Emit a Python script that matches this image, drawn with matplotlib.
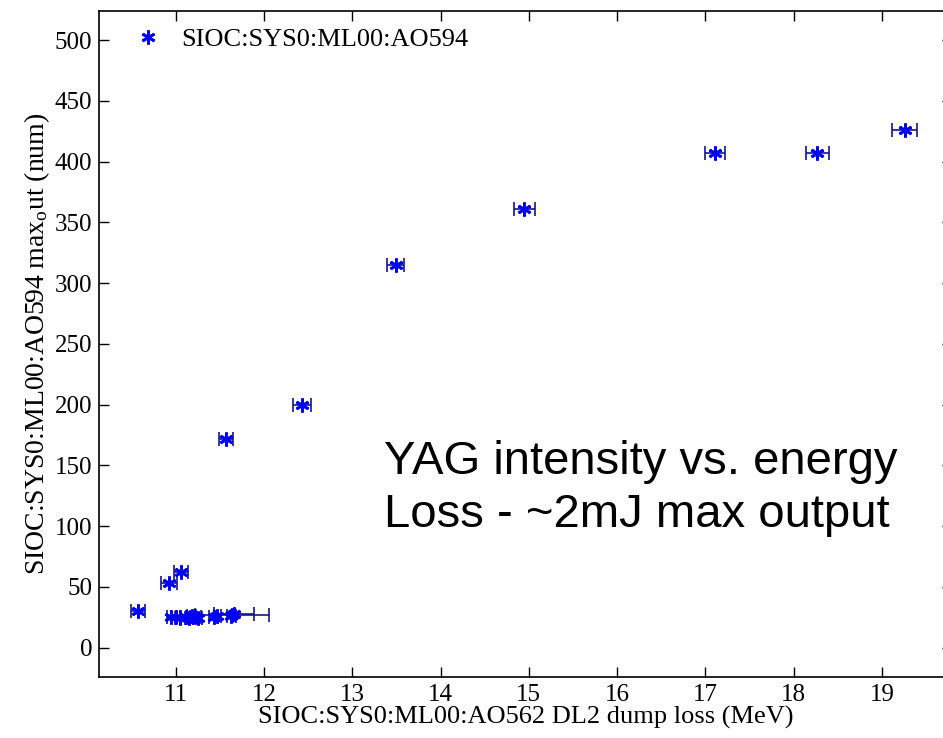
import matplotlib.pyplot as plt
import numpy as np

plt.rcParams['font.family'] = 'Liberation Serif'
plt.rcParams['mathtext.fontset'] = 'custom'
plt.rcParams['mathtext.rm'] = 'Liberation Serif'
plt.rcParams['mathtext.it'] = 'Liberation Serif:italic'

# dump loss (MeV), max output (num), x error
energy = [10.57, 10.92, 11.06, 11.57, 12.43, 13.49, 14.95, 17.11, 18.27, 19.26,
          10.95, 11.00, 11.05, 11.12, 11.15, 11.18, 11.22, 11.25, 11.43, 11.47,
          11.63, 11.66, 11.64]
output = [30, 53, 62, 172, 200, 315, 361, 407, 407, 426,
          25, 25, 24, 25, 24, 26, 25, 24, 25, 26,
          26, 28, 27]
energy_err = [0.08, 0.09, 0.08, 0.08, 0.10, 0.10, 0.12, 0.11, 0.13, 0.14,
              0.05, 0.05, 0.06, 0.06, 0.05, 0.05, 0.06, 0.05, 0.05, 0.04,
              0.05, 0.23, 0.42]

xticks = np.arange(11, 20)
yticks = np.arange(0, 501, 50)

fig = plt.figure(figsize=(9.43, 7.38), dpi=100)
ax = fig.add_axes([0.105, 0.083, 0.905, 0.902])

ax.errorbar(energy, output, xerr=energy_err, fmt='none', ecolor='#14148c',
            elinewidth=1.2, capsize=5, capthick=1.2)
ax.plot(energy, output, linestyle='none', marker=(6, 2, 0), markersize=10,
        markeredgewidth=2.0, color='#0000ff', label='SIOC:SYS0:ML00:AO594')

ax.set_xlim(10.13, 19.80)
ax.set_ylim(-24, 524)
ax.set_xticks(xticks)
ax.set_yticks(yticks)
ax.tick_params(direction='in', length=7, width=1, top=True, right=True,
               labelsize=18, pad=5)
for s in ax.spines.values():
    s.set_linewidth(1.2)

ax.set_xlabel('SIOC:SYS0:ML00:AO562 DL2 dump loss (MeV)', fontsize=19, labelpad=0)
ax.set_ylabel(r'SIOC:SYS0:ML00:AO594 max$_\mathrm{o}$ut (num)', fontsize=20, labelpad=2)

ax.legend(loc='upper left', bbox_to_anchor=(0, 1.014), frameon=False, fontsize=19,
          handletextpad=0.4, borderaxespad=0.88, handlelength=1.74, borderpad=0.1)

ax.text(0.334, 0.355, 'YAG intensity vs. energy\nLoss - ~2mJ max output',
        transform=ax.transAxes, fontsize=34, family='Liberation Sans',
        linespacing=1.25, va='top')

fig.savefig('out.png', dpi=100)
